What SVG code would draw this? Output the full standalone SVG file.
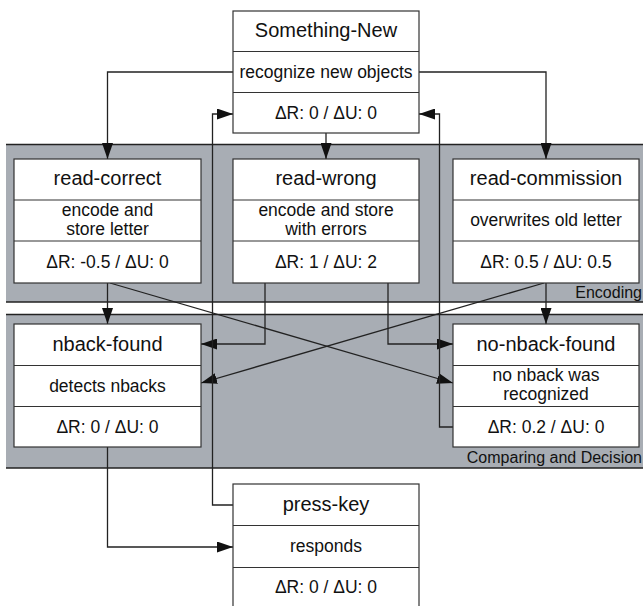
<svg xmlns="http://www.w3.org/2000/svg" width="643" height="606" viewBox="0 0 643 606">
<style>
.grp{fill:#a8adb4}
.gedge{stroke:#222;stroke-width:1.3}
.box{fill:#fff;stroke:#333;stroke-width:1.2}
.div{stroke:#333;stroke-width:1.2}
.t{font-family:"Liberation Sans",Arial,sans-serif;font-size:20px;fill:#111;text-anchor:middle}
.b{font-family:"Liberation Sans",Arial,sans-serif;font-size:17.5px;fill:#111;text-anchor:middle}
.gl{font-family:"Liberation Sans",Arial,sans-serif;font-size:16px;fill:#111;text-anchor:end}
.c{fill:none;stroke:#222;stroke-width:1.3;marker-end:url(#arr)}
</style>
<defs>
<marker id="arr" markerUnits="userSpaceOnUse" markerWidth="16" markerHeight="11" refX="16" refY="5.5" orient="auto">
<path d="M0,0 L16,5.5 L0,11 z" fill="#111"/>
</marker>
</defs>
<rect width="643" height="606" fill="#fff"/>
<g id="group-encoding">
<rect class="grp" x="6" y="144" width="650" height="158"/>
<line class="gedge" x1="6" y1="144.5" x2="656" y2="144.5"/>
<line class="gedge" x1="6" y1="302" x2="656" y2="302"/>
<text class="gl" x="642" y="298">Encoding</text>
</g>
<g id="group-comparing">
<rect class="grp" x="6" y="314" width="650" height="154"/>
<line class="gedge" x1="6" y1="314.5" x2="656" y2="314.5"/>
<line class="gedge" x1="6" y1="468" x2="656" y2="468"/>
<text class="gl" x="642" y="463">Comparing and Decision</text>
</g>
<g id="connectors">
<path class="c" d="M233,72 H107.5 V159"/>
<path class="c" d="M419,72 H546 V159"/>
<path class="c" d="M326,133 V159"/>
<path class="c" d="M107.5,283 V324"/>
<path class="c" d="M110,283 L453,383"/>
<path class="c" d="M544,283 L201,383"/>
<path class="c" d="M546,283 V324"/>
<path class="c" d="M265,283 V344 H201"/>
<path class="c" d="M388,283 V344 H453"/>
<path class="c" d="M107.5,447 V547 H233"/>
<path class="c" d="M233,505 H212.5 V114 H233"/>
<path class="c" d="M453,427 H439.5 V114 H419"/>
</g>
<g id="something-new">
<rect class="box" x="233" y="11" width="186" height="122"/>
<line class="div" x1="233" y1="51.5" x2="419" y2="51.5"/>
<line class="div" x1="233" y1="92.5" x2="419" y2="92.5"/>
<text class="t" x="326" y="37">Something-New</text>
<text class="b" x="326" y="78">recognize new objects</text>
<text class="b" x="326" y="119">ΔR: 0 / ΔU: 0</text>
</g>
<g id="read-correct">
<rect class="box" x="14" y="159" width="187" height="124"/>
<line class="div" x1="14" y1="200" x2="201" y2="200"/>
<line class="div" x1="14" y1="241" x2="201" y2="241"/>
<text class="t" x="107.5" y="185">read-correct</text>
<text class="b" x="107.5" y="216">encode and</text>
<text class="b" x="107.5" y="235">store letter</text>
<text class="b" x="107.5" y="268">ΔR: -0.5 / ΔU: 0</text>
</g>
<g id="read-wrong">
<rect class="box" x="233" y="159" width="186" height="124"/>
<line class="div" x1="233" y1="200" x2="419" y2="200"/>
<line class="div" x1="233" y1="241" x2="419" y2="241"/>
<text class="t" x="326" y="185">read-wrong</text>
<text class="b" x="326" y="216">encode and store</text>
<text class="b" x="326" y="235">with errors</text>
<text class="b" x="326" y="268">ΔR: 1 / ΔU: 2</text>
</g>
<g id="read-commission">
<rect class="box" x="453" y="159" width="186" height="124"/>
<line class="div" x1="453" y1="200" x2="639" y2="200"/>
<line class="div" x1="453" y1="241" x2="639" y2="241"/>
<text class="t" x="546" y="185">read-commission</text>
<text class="b" x="546" y="226">overwrites old letter</text>
<text class="b" x="546" y="268">ΔR: 0.5 / ΔU: 0.5</text>
</g>
<g id="nback-found">
<rect class="box" x="14" y="324" width="187" height="123"/>
<line class="div" x1="14" y1="365.5" x2="201" y2="365.5"/>
<line class="div" x1="14" y1="406.5" x2="201" y2="406.5"/>
<text class="t" x="107.5" y="351">nback-found</text>
<text class="b" x="107.5" y="392">detects nbacks</text>
<text class="b" x="107.5" y="433">ΔR: 0 / ΔU: 0</text>
</g>
<g id="no-nback-found">
<rect class="box" x="453" y="324" width="186" height="123"/>
<line class="div" x1="453" y1="365.5" x2="639" y2="365.5"/>
<line class="div" x1="453" y1="406.5" x2="639" y2="406.5"/>
<text class="t" x="546" y="351">no-nback-found</text>
<text class="b" x="546" y="381">no nback was</text>
<text class="b" x="546" y="400">recognized</text>
<text class="b" x="546" y="433">ΔR: 0.2 / ΔU: 0</text>
</g>
<g id="press-key">
<rect class="box" x="233" y="484" width="186" height="126"/>
<line class="div" x1="233" y1="525.5" x2="419" y2="525.5"/>
<line class="div" x1="233" y1="567.5" x2="419" y2="567.5"/>
<text class="t" x="326" y="511">press-key</text>
<text class="b" x="326" y="552">responds</text>
<text class="b" x="326" y="593">ΔR: 0 / ΔU: 0</text>
</g>
</svg>
